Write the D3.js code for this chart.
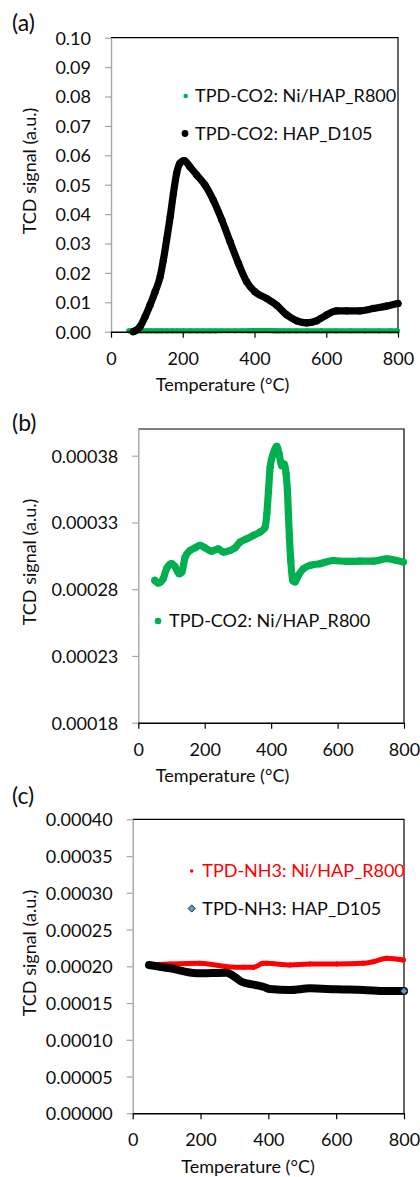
<!DOCTYPE html>
<html>
<head>
<meta charset="utf-8">
<script src="https://cdn.jsdelivr.net/npm/d3@7"></script>
<style>
  html, body { margin: 0; padding: 0; background: #fff; }
  svg { display: block; font-family: Lato, "Open Sans", sans-serif; }
</style>
</head>
<body>
<svg id="chart" width="420" height="1177"></svg>
<script>
// ---- TPD-CO2 on Ni/HAP_R800: temperature (°C) and TCD signal (a.u.)
const co2NiTemp = [50, 60, 75, 85, 100, 110, 123, 131, 141, 156,
  171, 186, 201, 221, 241, 256, 276, 291, 306, 326,
  346, 366, 381, 387, 392, 397, 406, 417, 424, 432,
  439, 445, 449, 452, 455, 459, 465, 472, 482, 497,
  517, 547, 587, 627, 667, 708, 748, 778, 798];
const co2NiSignal = [2.866e-4, 2.846e-4, 2.879e-4, 2.953e-4, 2.991e-4, 2.971e-4, 2.916e-4, 2.928e-4, 3.040e-4, 3.090e-4,
  3.110e-4, 3.128e-4, 3.110e-4, 3.085e-4, 3.103e-4, 3.078e-4, 3.090e-4, 3.110e-4, 3.152e-4, 3.177e-4,
  3.202e-4, 3.227e-4, 3.260e-4, 3.364e-4, 3.538e-4, 3.713e-4, 3.813e-4, 3.870e-4, 3.813e-4, 3.725e-4,
  3.738e-4, 3.663e-4, 3.538e-4, 3.364e-4, 3.190e-4, 3.015e-4, 2.866e-4, 2.854e-4, 2.903e-4, 2.953e-4,
  2.978e-4, 2.991e-4, 3.015e-4, 3.008e-4, 3.010e-4, 3.010e-4, 3.028e-4, 3.015e-4, 3.003e-4];

// ---- TPD-CO2 on HAP_D105
const co2HapTemp = [62, 67, 81, 95, 109, 123, 137, 146, 155, 165,
  174, 183, 192, 204, 220, 239, 262, 285, 309, 332,
  355, 378, 401, 434, 462, 490, 518, 545, 573, 601,
  629, 657, 694, 731, 768, 800];
const co2HapSignal = [0.0000, 0.0003, 0.0017, 0.0051, 0.0091, 0.0136, 0.0187, 0.0244, 0.0312, 0.0391,
  0.0471, 0.0539, 0.0573, 0.0582, 0.0561, 0.0533, 0.0499, 0.0448, 0.0380, 0.0306,
  0.0233, 0.0170, 0.0136, 0.0113, 0.0090, 0.0057, 0.0037, 0.0030, 0.0037, 0.0057,
  0.0071, 0.0071, 0.0071, 0.0079, 0.0087, 0.0096];

// ---- TPD-NH3 on Ni/HAP_R800
const nh3NiTemp = [50, 110, 198, 277, 326, 356, 385, 395, 464, 523, 602, 680, 710, 749, 798];
const nh3NiSignal = [2.02e-4, 2.031e-4, 2.04e-4, 1.995e-4, 1.986e-4, 1.986e-4, 2.04e-4, 2.04e-4, 2.018e-4,
  2.031e-4, 2.031e-4, 2.04e-4, 2.063e-4, 2.109e-4, 2.086e-4];

// ---- TPD-NH3 on HAP_D105
const nh3HapTemp = [48, 110, 189, 277, 297, 321, 356, 385, 405, 464, 523, 602, 680, 749, 800];
const nh3HapSignal = [2.018e-4, 1.973e-4, 1.905e-4, 1.913e-4, 1.868e-4, 1.79e-4, 1.75e-4, 1.722e-4, 1.69e-4,
  1.678e-4, 1.70e-4, 1.687e-4, 1.678e-4, 1.664e-4, 1.664e-4];

// ---- axis ticks
const tempTicks = [0, 200, 400, 600, 800];
const ticksA = [0, 0.01, 0.02, 0.03, 0.04, 0.05, 0.06, 0.07, 0.08, 0.09, 0.10];
const ticksB = [0.00018, 0.00023, 0.00028, 0.00033, 0.00038];
const ticksC = [0, 0.00005, 0.0001, 0.00015, 0.0002, 0.00025, 0.0003, 0.00035, 0.0004];

const GREEN = "#00B050", RED = "#FF0000", BLACK = "#000", BLUE = "#5B9BD5";
const FONT = 18;
const INK = "#0d0d0d";

const svg = d3.select("#chart");

function zip(xs, ys) { return xs.map((t, i) => ({ t, v: ys[i] })); }

function panel(cfg) {
  const x = d3.scaleLinear().domain([0, 800]).range([cfg.left, cfg.right]);
  const y = d3.scaleLinear().domain(cfg.yDomain).range([cfg.bottom, cfg.top]);
  const g = svg.append("g");

  // frame: top and right edges
  g.append("path")
    .attr("d", `M${cfg.left},${cfg.top}H${cfg.right}V${cfg.bottom}`)
    .attr("fill", "none").attr("stroke", "#000").attr("stroke-width", 1.2);

  // series
  cfg.series.forEach(s => {
    const data = zip(s.temp, s.signal);
    const line = d3.line().x(d => x(d.t)).y(d => y(d.v)).curve(d3.curveMonotoneX);
    g.append("path").datum(data)
      .attr("d", line)
      .attr("fill", "none")
      .attr("stroke", s.color)
      .attr("stroke-width", s.r * 2)
      .attr("stroke-linejoin", "round")
      .attr("stroke-linecap", "round");
    if (s.shape === "circle") {
      g.append("g").selectAll("circle").data(data).join("circle")
        .attr("cx", d => x(d.t)).attr("cy", d => y(d.v)).attr("r", s.r)
        .attr("fill", s.color);
    } else {
      // diamond markers: only the last one stays uncovered by the dense trace
      const last = data[data.length - 1];
      g.append("path")
        .attr("d", d3.symbol(d3.symbolSquare, 26)())
        .attr("transform", `translate(${x(last.t)},${y(last.v)}) rotate(45)`)
        .attr("fill", BLUE).attr("stroke", "#1f1f1f").attr("stroke-width", 0.8);
    }
  });

  // y axis
  const ya = g.append("g").attr("transform", `translate(${cfg.left},0)`)
    .call(d3.axisLeft(y).tickValues(cfg.yTicks).tickFormat(cfg.yFmt).tickSize(6).tickSizeOuter(0).tickPadding(14));
  ya.attr("font-family", null);
  ya.select(".domain").attr("stroke", "#a6a6a6").attr("stroke-width", 1.4);
  ya.selectAll(".tick line").attr("stroke", "#a6a6a6").attr("stroke-width", 1.2);
  ya.selectAll(".tick text").attr("fill", INK).attr("font-size", FONT).attr("dy", "0.36em");

  // x axis
  const xa = g.append("g").attr("transform", `translate(0,${cfg.bottom})`)
    .call(d3.axisBottom(x).tickValues(tempTicks).tickSize(6).tickSizeOuter(0));
  xa.attr("font-family", null);
  xa.select(".domain").attr("stroke", "#000").attr("stroke-width", 1.4);
  xa.selectAll(".tick line").attr("stroke", "#000").attr("stroke-width", 1.2);
  xa.selectAll(".tick text").attr("fill", INK).attr("font-size", FONT)
    .attr("y", 33).attr("dy", 0);

  // titles
  g.append("text").attr("x", cfg.xTitleX).attr("y", cfg.bottom + 59.5)
    .attr("text-anchor", "middle").attr("font-size", FONT).attr("fill", INK)
    .text("Temperature (°C)");
  g.append("text").attr("transform", `translate(36,${cfg.yTitleY}) rotate(-90)`)
    .attr("text-anchor", "middle").attr("font-size", FONT).attr("fill", INK)
    .text("TCD signal (a.u.)");
  g.append("text").attr("x", 12).attr("y", cfg.labelY)
    .attr("font-size", 23).attr("fill", INK).text(cfg.label);

  // legend
  cfg.legend.forEach(l => {
    if (l.shape === "circle") {
      g.append("circle").attr("cx", l.mx).attr("cy", l.my).attr("r", l.r).attr("fill", l.color);
    } else {
      g.append("path").attr("d", d3.symbol(d3.symbolSquare, 26)())
        .attr("transform", `translate(${l.mx},${l.my}) rotate(45)`)
        .attr("fill", BLUE).attr("stroke", "#1f1f1f").attr("stroke-width", 0.9);
    }
    g.append("text").attr("x", l.tx).attr("y", l.ty).attr("font-size", FONT)
      .attr("fill", l.textColor).text(l.text);
  });
}

panel({
  left: 111, right: 398, top: 37.7, bottom: 331.7,
  yDomain: [0, 0.1], yTicks: ticksA, yFmt: d3.format(".2f"),
  label: "(a)", labelY: 31, xTitleX: 222.5, yTitleY: 171,
  series: [
    { temp: co2NiTemp, signal: co2NiSignal, color: GREEN, r: 2.6, shape: "circle" },
    { temp: co2HapTemp, signal: co2HapSignal, color: BLACK, r: 3.6, shape: "circle" }
  ],
  legend: [
    { shape: "circle", mx: 185.7, my: 96, r: 2.3, color: GREEN, tx: 195, ty: 102.3, textColor: INK, text: "TPD-CO2: Ni/HAP_R800" },
    { shape: "circle", mx: 185, my: 133.5, r: 3.4, color: BLACK, tx: 195, ty: 140, textColor: INK, text: "TPD-CO2: HAP_D105" }
  ]
});

panel({
  left: 138.3, right: 404, top: 429, bottom: 722.7,
  yDomain: [0.00018, 0.0004], yTicks: ticksB, yFmt: d3.format(".5f"),
  label: "(b)", labelY: 431, xTitleX: 222.5, yTitleY: 562,
  series: [
    { temp: co2NiTemp, signal: co2NiSignal, color: GREEN, r: 3.6, shape: "circle" }
  ],
  legend: [
    { shape: "circle", mx: 158, my: 621, r: 3.3, color: GREEN, tx: 169, ty: 627.3, textColor: INK, text: "TPD-CO2: Ni/HAP_R800" }
  ]
});

panel({
  left: 132.7, right: 404, top: 819.3, bottom: 1113.3,
  yDomain: [0, 0.0004], yTicks: ticksC, yFmt: d3.format(".5f"),
  label: "(c)", labelY: 804, xTitleX: 248, yTitleY: 953,
  series: [
    { temp: nh3NiTemp, signal: nh3NiSignal, color: RED, r: 2.5, shape: "circle" },
    { temp: nh3HapTemp, signal: nh3HapSignal, color: BLACK, r: 4, shape: "diamond" }
  ],
  legend: [
    { shape: "circle", mx: 191.7, my: 871, r: 1.8, color: RED, tx: 202.3, ty: 877.3, textColor: RED, text: "TPD-NH3: Ni/HAP_R800" },
    { shape: "diamond", mx: 191.7, my: 908.5, tx: 202.3, ty: 915, textColor: INK, text: "TPD-NH3: HAP_D105" }
  ]
});
</script>
</body>
</html>
